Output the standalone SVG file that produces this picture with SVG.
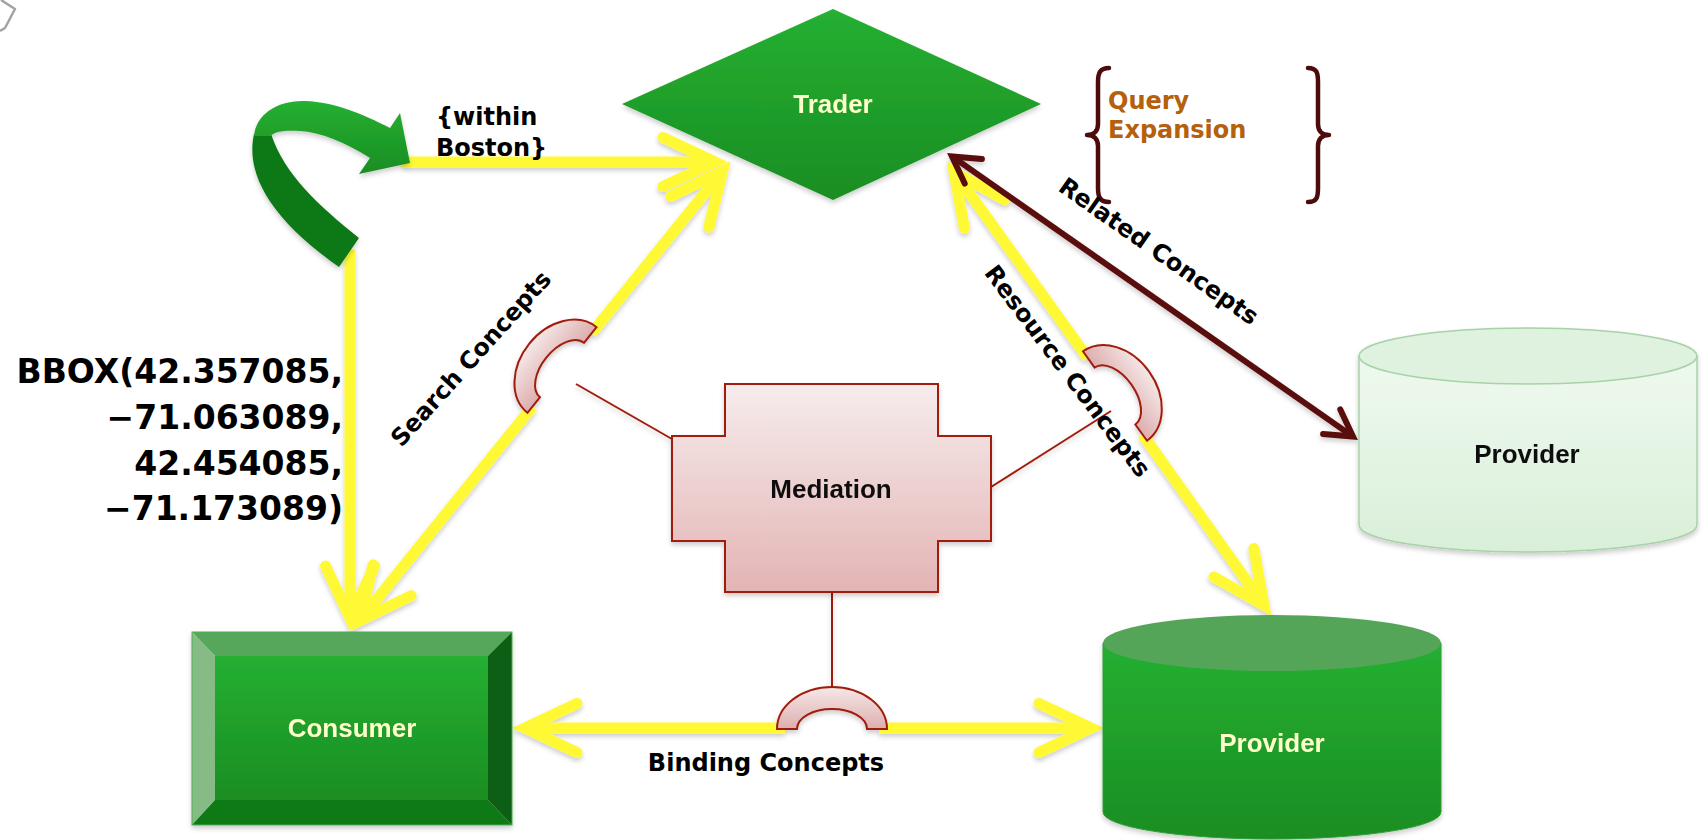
<svg xmlns="http://www.w3.org/2000/svg" width="1704" height="840" viewBox="0 0 1704 840">
<style>
.lbl{font-family:"DejaVu Sans","Open Sans",sans-serif;font-weight:bold;font-size:24px;fill:#000}
.big{font-size:33px}
.node{font-family:"Liberation Sans",Arial,sans-serif;font-weight:bold;font-size:26px;text-anchor:middle}
.cream{fill:#FFFFCC}
.ink{fill:#111}
.qe{fill:#B4600C}
.yl{fill:none;stroke:#FFF935;stroke-width:11}
.rel{fill:none;stroke:#5A0A0A;stroke-width:6}
.med{fill:none;stroke:#A01C0C;stroke-width:2}
.sock{fill:url(#gSock);stroke:#A01C0C;stroke-width:2}
.brace{fill:none;stroke:#4D0B0B;stroke-width:4.5;stroke-linecap:round;stroke-linejoin:round}
</style>
<defs>
  <linearGradient id="gGreen" x1="0" y1="0" x2="0" y2="1">
    <stop offset="0" stop-color="#25B031"/>
    <stop offset="1" stop-color="#1A8D23"/>
  </linearGradient>
  <linearGradient id="gMed" x1="0" y1="0" x2="0" y2="1">
    <stop offset="0" stop-color="#F6ECEC"/>
    <stop offset="1" stop-color="#E4B4B4"/>
  </linearGradient>
  <linearGradient id="gSock" x1="0" y1="0" x2="0" y2="1">
    <stop offset="0" stop-color="#F6E8E8"/>
    <stop offset="1" stop-color="#DDAEAE"/>
  </linearGradient>
  <linearGradient id="gLight" x1="0" y1="0" x2="0" y2="1">
    <stop offset="0" stop-color="#EFF9EF"/>
    <stop offset="1" stop-color="#D9EFD9"/>
  </linearGradient>
  <filter id="sh" filterUnits="userSpaceOnUse" x="0" y="0" width="1704" height="840">
    <feDropShadow dx="0" dy="3" stdDeviation="2.5" flood-color="#000" flood-opacity="0.2"/>
  </filter>
  <!-- open chevron heads; vertex sits on the path end, miter carries the point forward -->
  <marker id="ya" markerUnits="userSpaceOnUse" orient="auto-start-reverse" refX="0" refY="0" markerWidth="1" markerHeight="1" overflow="visible">
    <path d="M-52,-24.5 L0,0 L-52,24.5" fill="none" stroke="#FFF935" stroke-width="11" stroke-linecap="round" stroke-linejoin="miter"/>
  </marker>
  <marker id="ra" markerUnits="userSpaceOnUse" orient="auto-start-reverse" refX="0" refY="0" markerWidth="1" markerHeight="1" overflow="visible">
    <path d="M-26,-15 L0,0 L-26,15" fill="none" stroke="#5A0A0A" stroke-width="6" stroke-linecap="round" stroke-linejoin="miter"/>
  </marker>
  <!-- half-ring socket, opening along local +y -->
  <path id="socket" d="M-55,0 A55,42 0 0 1 55,0 L35,0 A35,20 0 0 0 -35,0 Z"/>
</defs>

<rect width="1704" height="840" fill="#fff"/>

<!-- small grey corner glyph -->
<polyline points="1,0 15,9 5,28 0,31" fill="none" stroke="#A3A3A3" stroke-width="2.5" stroke-linejoin="round"/>

<!-- connectors -->
<g id="connectors" filter="url(#sh)">
  <!-- within Boston -->
  <path class="yl" d="M402,162 L715,162" marker-end="url(#ya)"/>
  <!-- BBOX -->
  <path class="yl" d="M350,250 L350,618" marker-end="url(#ya)"/>
  <!-- Search Concepts (split by socket) -->
  <path class="yl" d="M359.5,620.7 L532.5,406.6" marker-start="url(#ya)"/>
  <path class="yl" d="M591.5,333.4 L722.5,171.3" marker-end="url(#ya)"/>
  <!-- Resource Concepts (split by socket) -->
  <path class="yl" d="M954,171.8 L1087.6,357.8" marker-start="url(#ya)"/>
  <path class="yl" d="M1142.4,434.2 L1264,605.2" marker-end="url(#ya)"/>
  <!-- Binding Concepts (split by socket) -->
  <path class="yl" d="M525,728 L785,728" marker-start="url(#ya)"/>
  <path class="yl" d="M879,728 L1091,728" marker-end="url(#ya)"/>
  <!-- Related Concepts -->
  <path class="rel" d="M952,156.4 L1353,436.6" marker-start="url(#ra)" marker-end="url(#ra)"/>
  <!-- mediation links -->
  <path class="med" d="M576,384 L672,439"/>
  <path class="med" d="M991,487 L1111,411"/>
  <path class="med" d="M832,592 L832,687"/>
  <!-- sockets -->
  <use href="#socket" class="sock" transform="translate(562,370) rotate(-51.1)"/>
  <use href="#socket" class="sock" transform="translate(1115,396) rotate(54.4)"/>
  <use href="#socket" class="sock" transform="translate(832,729)"/>
</g>

<!-- curved arrow -->
<g id="curved-arrow" filter="url(#sh)">
  <path d="M254,134 C246,170 265,215 339,267 L359,238 C318,205 285,175 271,134 Z" fill="#107819"/>
  <path d="M254,136 C256,114 278,100 305,101 C335,102 365,115 390,128 L400,113 L410,163 L359,174 L370,158 C345,142 320,132 300,131 C286,130 274,131 271,136 Z" fill="url(#gGreen)"/>
</g>

<!-- Trader -->
<g id="trader" filter="url(#sh)">
  <polygon points="622,104 833,9 1041,104 833,200" fill="url(#gGreen)"/>
  <text class="node cream" x="833" y="113">Trader</text>
</g>

<!-- Consumer -->
<g id="consumer" filter="url(#sh)">
  <polygon points="192,632 512,632 488,656 215,656" fill="#57A65B"/>
  <polygon points="192,632 215,656 215,800 192,825" fill="#86BB86"/>
  <polygon points="512,632 512,825 488,800 488,656" fill="#0B5F13"/>
  <polygon points="192,825 215,800 488,800 512,825" fill="#117A19"/>
  <rect x="215" y="656" width="273" height="144" fill="url(#gGreen)"/>
  <rect x="192" y="632" width="320" height="193" fill="none" stroke="#4CAF50" stroke-width="1"/>
  <text class="node cream" x="352" y="737">Consumer</text>
</g>

<!-- Provider (main) -->
<g id="provider" filter="url(#sh)">
  <path d="M1103,643 L1103,812 A169,27 0 0 0 1441,812 L1441,643 Z" fill="url(#gGreen)" stroke="#2E9E38" stroke-width="1"/>
  <ellipse cx="1272" cy="643" rx="169" ry="28" fill="#55A558"/>
  <text class="node cream" x="1272" y="752">Provider</text>
</g>

<!-- Provider (related) -->
<g id="provider-related" filter="url(#sh)">
  <path d="M1359,356 L1359,525 A169,27 0 0 0 1697,525 L1697,356 Z" fill="url(#gLight)" stroke="#A8D2A8" stroke-width="1.5"/>
  <ellipse cx="1528" cy="356" rx="169" ry="28" fill="#DFF2DF" stroke="#A8D2A8" stroke-width="1.5"/>
  <text class="node ink" x="1527" y="463">Provider</text>
</g>

<!-- Mediation -->
<g id="mediation" filter="url(#sh)">
  <polygon points="725,384 938,384 938,436 991,436 991,541 938,541 938,592 725,592 725,541 672,541 672,436 725,436" fill="url(#gMed)" stroke="#A01C0C" stroke-width="2"/>
  <text class="node ink" x="831" y="498">Mediation</text>
</g>

<!-- Query Expansion -->
<g id="query-expansion">
  <path class="brace" d="M1109,68 C1100,68 1098,73 1098,82 L1098,124 C1098,131 1094,135 1087,135 C1094,135 1098,139 1098,146 L1098,188 C1098,197 1100,202 1109,202"/>
  <path class="brace" d="M1308,68 C1317,68 1318,73 1318,82 L1318,124 C1318,131 1322,135 1329,135 C1322,135 1318,139 1318,146 L1318,188 C1318,197 1317,202 1308,202"/>
  <text class="lbl qe" x="1108" y="109">Query</text>
  <text class="lbl qe" x="1108" y="138">Expansion</text>
</g>

<!-- labels -->
<g id="labels">
  <text class="lbl" x="436" y="125">{within</text>
  <text class="lbl" x="436" y="156">Boston}</text>
  <g text-anchor="end">
    <text class="lbl big" x="343" y="383">BBOX(42.357085,</text>
    <text class="lbl big" x="343" y="429">−71.063089,</text>
    <text class="lbl big" x="343" y="475">42.454085,</text>
    <text class="lbl big" x="343" y="520">−71.173089)</text>
  </g>
  <text class="lbl" text-anchor="middle" transform="translate(477,364) rotate(-48)">Search Concepts</text>
  <text class="lbl" text-anchor="middle" transform="translate(1061,376) rotate(53)">Resource Concepts</text>
  <text class="lbl" text-anchor="middle" transform="translate(1154,258) rotate(35)">Related Concepts</text>
  <text class="lbl" text-anchor="middle" x="766" y="771">Binding Concepts</text>
</g>
</svg>
